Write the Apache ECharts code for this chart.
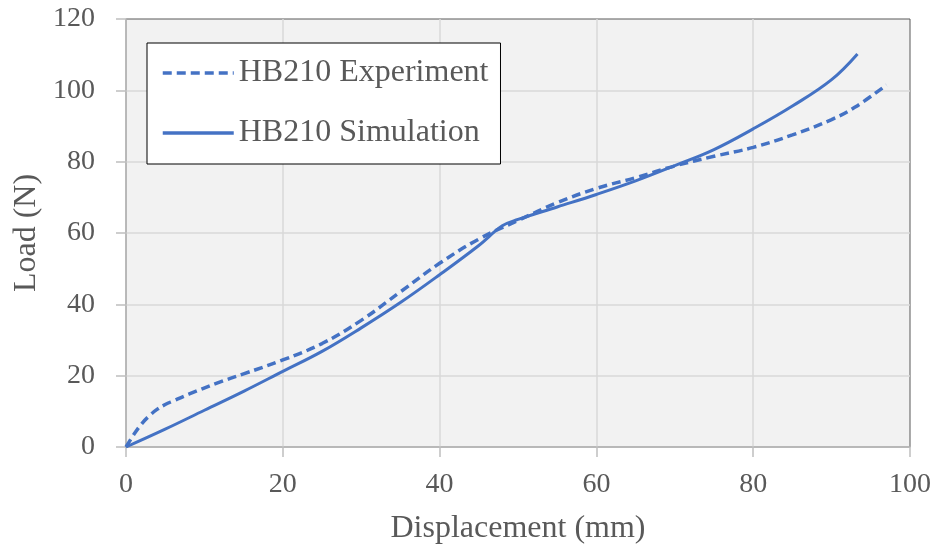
<!DOCTYPE html>
<html>
<head>
<meta charset="utf-8">
<script src="https://cdn.jsdelivr.net/npm/echarts@6/dist/echarts.min.js"></script>
<style>html,body{margin:0;padding:0;background:#fff}#c{width:938px;height:548px}</style>
</head>
<body>
<div id="c"></div>
<script>
const xTicks = [0, 20, 40, 60, 80, 100];
const yTicks = [0, 20, 40, 60, 80, 100, 120];
const seriesNames = ['HB210 Experiment', 'HB210 Simulation'];
const expX = [0, 1, 2, 3, 4, 5, 6, 8, 11.6, 15, 20, 25, 30, 35, 40, 45, 50, 55, 60, 65, 70, 75, 80, 85, 90, 93, 97];
const expY = [0, 3.5, 6.5, 8.8, 10.6, 11.9, 12.9, 14.8, 17.9, 20.5, 24.4, 29, 35.5, 43.5, 51.5, 58.3, 63.5, 68.5, 72.5, 75.5, 78.8, 81.5, 84, 87.5, 91.8, 95.3, 101.5];
const simX = [0, 5, 10, 15, 20, 25, 30, 35, 40, 45, 48, 50, 55, 60, 65, 70, 75, 80, 85, 90, 93.3];
const simY = [0, 5, 10.3, 15.6, 21.2, 26.8, 33.4, 40.5, 48.3, 56.5, 62, 63.8, 67.3, 70.8, 74.6, 78.9, 83.4, 89.2, 95.6, 103, 110.2];

const pair = (xs, ys) => xs.map((x, i) => [x, ys[i]]);
const FONT = '"Liberation Serif", "Times New Roman", serif';
const TXT = '#595959';
const BLUE = '#4472C4';

const chart = echarts.init(document.getElementById('c'), null, {renderer: 'canvas'});
chart.setOption({
  animation: false,
  grid: {left: 126, right: 28, top: 19, bottom: 101, outerBoundsMode: 'none', containLabel: false,
         show: true, backgroundColor: '#F2F2F2', borderColor: '#595959', borderWidth: 1},
  legend: {
    orient: 'vertical', left: 147, top: 43,
    backgroundColor: '#fff', borderColor: '#000', borderWidth: 1,
    padding: [10, 12, 11, 14], itemGap: 20, itemWidth: 71, itemHeight: 20,
    textStyle: {fontFamily: FONT, fontSize: 32, color: TXT, lineHeight: 40},
    itemStyle: {color: 'transparent', borderWidth: 0, opacity: 0},
    lineStyle: {width: 3.5},
    data: seriesNames
  },
  xAxis: {
    type: 'value', min: xTicks[0], max: xTicks[xTicks.length - 1], interval: 20,
    name: 'Displacement (mm)', nameLocation: 'middle', nameGap: 66,
    nameTextStyle: {fontFamily: FONT, fontSize: 32, color: TXT},
    axisLine: {show: true, lineStyle: {color: '#BFBFBF', width: 1.5}},
    axisTick: {show: true, inside: false, length: 10, lineStyle: {color: '#BFBFBF', width: 1.5}},
    axisLabel: {fontFamily: FONT, fontSize: 28, color: TXT, margin: 24},
    splitLine: {show: true, showMinLine: false, showMaxLine: false, lineStyle: {color: '#D9D9D9', width: 1.5}}
  },
  yAxis: {
    type: 'value', min: yTicks[0], max: yTicks[yTicks.length - 1], interval: 20,
    name: 'Load (N)', nameLocation: 'middle', nameGap: 83,
    nameTextStyle: {fontFamily: FONT, fontSize: 32, color: TXT},
    axisLine: {show: true, lineStyle: {color: '#BFBFBF', width: 1.5}},
    axisTick: {show: true, inside: false, length: 10, lineStyle: {color: '#BFBFBF', width: 1.5}},
    axisLabel: {fontFamily: FONT, fontSize: 28, color: TXT, margin: 31},
    splitLine: {show: true, showMinLine: false, showMaxLine: false, lineStyle: {color: '#D9D9D9', width: 1.5}}
  },
  series: [
    {name: seriesNames[0], type: 'line', smooth: 0.4, symbol: 'none', data: pair(expX, expY),
     lineStyle: {color: BLUE, width: 3.5, type: [9, 5]}, itemStyle: {color: BLUE}},
    {name: seriesNames[1], type: 'line', smooth: 0.4, symbol: 'none', data: pair(simX, simY),
     lineStyle: {color: BLUE, width: 3}, itemStyle: {color: BLUE}}
  ]
});
</script>
</body>
</html>
